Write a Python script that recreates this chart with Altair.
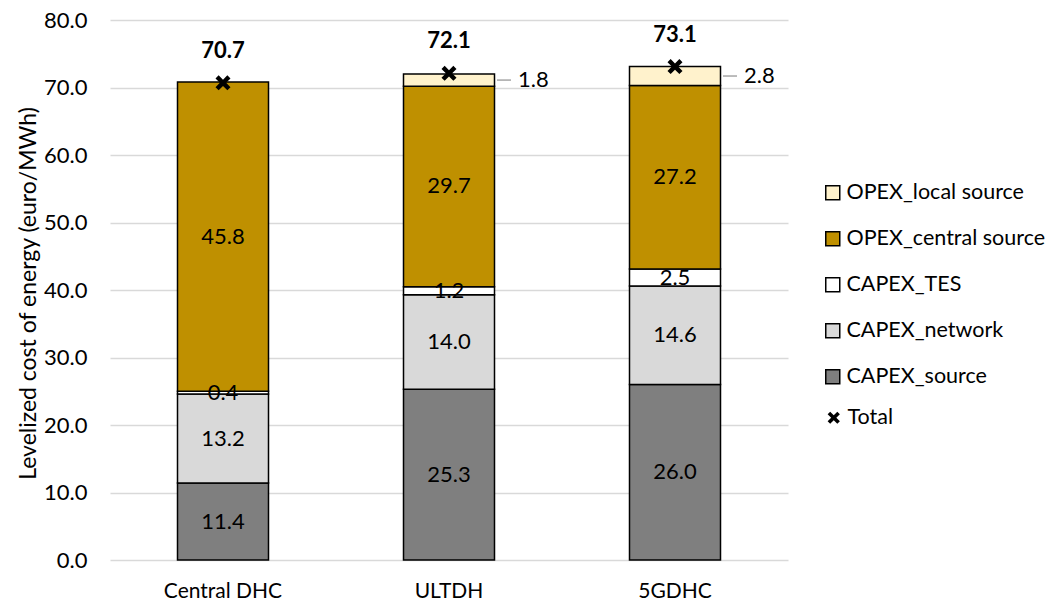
import altair as alt
import pandas as pd

categories = ["Central DHC", "ULTDH", "5GDHC"]
series_names = ["CAPEX_source", "CAPEX_network", "CAPEX_TES", "OPEX_central source", "OPEX_local source"]
capex_source = [11.4, 25.3, 26.0]
capex_network = [13.2, 14.0, 14.6]
capex_tes = [0.4, 1.2, 2.5]
opex_central = [45.8, 29.7, 27.2]
opex_local = [0.0, 1.8, 2.8]
totals = [70.7, 72.1, 73.1]
series_values = [capex_source, capex_network, capex_tes, opex_central, opex_local]
series_colors = ["#7f7f7f", "#d9d9d9", "#ffffff", "#bf9000", "#fff2cc"]
y_ticks = [0, 10, 20, 30, 40, 50, 60, 70, 80]

rows = []
for i, c in enumerate(categories):
    base = 0.0
    for k, (name, vals) in enumerate(zip(series_names, series_values)):
        v = vals[i]
        if v <= 0:
            continue
        rows.append(dict(cat=c, series=name, ord=k, value=v, y0=base, y1=base + v,
                         mid=base + v / 2, label=f"{v:.1f}",
                         outside=(name == "OPEX_local source")))
        base += v
df = pd.DataFrame(rows)
df_in = df[~df["outside"]]
df_out = df[df["outside"]]
tot = pd.DataFrame(dict(cat=categories, total=totals,
                        label=[f"{t:.1f}" for t in totals], key=["Total"] * 3))

FONT = "Lato"
FS = 22
LFS = 21.5
legend_order = series_names[::-1]
legend_colors = series_colors[::-1]
XPATH = ("M-1,-0.58L-0.58,-1L0,-0.42L0.58,-1L1,-0.58L0.42,0L1,0.58L0.58,1"
         "L0,0.42L-0.58,1L-1,0.58L-0.42,0Z")

xscale = alt.Scale(domain=categories, paddingInner=0, paddingOuter=0)
yscale = alt.Scale(domain=[0, 80], nice=False)

x_axis = alt.Axis(title=None, labelFontSize=21, labelFont=FONT, labelColor="black",
                  labelPadding=20, domain=False, ticks=False, labelAngle=0)
y_axis = alt.Axis(title="Levelized cost of energy (euro/MWh)", titleFont=FONT,
                  titleFontSize=23, titleFontWeight="normal", titleColor="black",
                  titleX=-82, titleY=273, titleAlign="center", titleBaseline="middle",
                  titleAngle=270,
                  labelFont=FONT, labelFontSize=FS, labelColor="black", labelPadding=23,
                  values=y_ticks, format=".1f", ticks=False, domain=False,
                  grid=True, gridColor="#d9d9d9", gridWidth=1.5)

bars = alt.Chart(df).mark_bar(size=91, stroke="black", strokeWidth=1.5).encode(
    x=alt.X("cat:N", scale=xscale, axis=x_axis, sort=categories),
    y=alt.Y("y0:Q", scale=yscale, axis=y_axis),
    y2="y1:Q",
    fill=alt.Fill("series:N", scale=alt.Scale(domain=legend_order, range=legend_colors),
                  legend=alt.Legend(title=None, orient="none", legendX=712, legendY=162,
                                    symbolType="square", symbolSize=196,
                                    symbolStrokeColor="black", symbolStrokeWidth=1.5,
                                    labelFont=FONT, labelFontSize=LFS, labelColor="black",
                                    labelOffset=3, rowPadding=23, labelLimit=400)),
)

xn = alt.X("cat:N", scale=xscale, sort=categories)

inner = alt.Chart(df_in).mark_text(font=FONT, fontSize=FS, color="black").encode(
    x=xn, y=alt.Y("mid:Q", scale=yscale), text="label:N")

leader = alt.Chart(df_out).mark_rule(color="#a6a6a6", strokeWidth=1.5,
                                     xOffset=48, x2Offset=62).encode(
    x=xn, x2="cat:N", y=alt.Y("mid:Q", scale=yscale))

outer = alt.Chart(df_out).mark_text(font=FONT, fontSize=FS, color="black",
                                    align="left", dx=69).encode(
    x=xn, y=alt.Y("mid:Q", scale=yscale), text="label:N")

marker = alt.Chart(tot).mark_point(filled=True, color="black", size=225, opacity=1).encode(
    x=xn, y=alt.Y("total:Q", scale=yscale),
    shape=alt.Shape("key:N", scale=alt.Scale(domain=["Total"], range=[XPATH]),
                    legend=alt.Legend(title=None, orient="none", legendX=713, legendY=387,
                                      symbolSize=150, symbolFillColor="black",
                                      symbolOpacity=1,
                                      labelFont=FONT, labelFontSize=LFS, labelColor="black",
                                      labelOffset=3)),
)

tot_text = alt.Chart(tot).mark_text(font=FONT, fontSize=FS, fontWeight="bold",
                                    color="black", dy=-32).encode(
    x=xn, y=alt.Y("total:Q", scale=yscale), text="label:N")

chart = alt.layer(bars, inner, leader, outer, marker, tot_text).properties(
    width=678, height=540,
    padding={"left": 102, "top": 12, "right": 258, "bottom": 44},
    autosize=alt.AutoSizeParams(type="none"),
    background="white",
).configure_view(stroke=None)

chart.save("out.html", embed_options={"renderer": "svg", "actions": False})
